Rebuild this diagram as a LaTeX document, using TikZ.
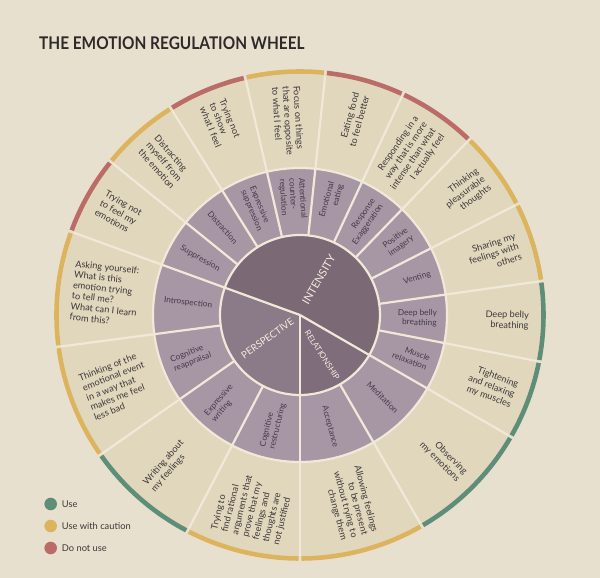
\documentclass[tikz,border=0pt]{standalone}
\usepackage{fontspec}
\setmainfont{Lato}
\definecolor{bgc}{HTML}{E8E0CE}
\definecolor{ringc}{HTML}{E1D7BD}
\definecolor{midc}{HTML}{A797A5}
\definecolor{intc}{HTML}{7B6975}
\definecolor{perc}{HTML}{8B7A87}
\definecolor{relc}{HTML}{7F6D7B}
\definecolor{divc}{HTML}{F0E9DA}
\definecolor{ggreen}{HTML}{5F8E78}
\definecolor{gyellow}{HTML}{DDB45E}
\definecolor{gred}{HTML}{BB6B68}
\definecolor{txtc}{HTML}{3D3839}
\definecolor{titlec}{HTML}{2E2A2A}
\definecolor{midtxt}{HTML}{45394A}
\definecolor{ctxt}{HTML}{F3ECE0}
\begin{document}
\begin{tikzpicture}[x=1pt,y=1pt,
  divline/.style={draw=divc, line width=2.2pt},
  band/.style={line width=4.6pt},
  outertext/.style={inner sep=0pt, text=txtc, font=\fontsize{9.2}{10.6}\selectfont},
  midtext/.style={inner sep=0pt, text=midtxt, font=\fontsize{8.3}{9.6}\selectfont},
  centertext/.style={inner sep=0pt, text=ctxt},
  legtext/.style={anchor=west, inner sep=0pt, text=txtc, font=\fontsize{9.3}{11}\selectfont}]
% background
\fill[bgc] (-300,-263) rectangle (300,315);
\useasboundingbox (-300,-263) rectangle (300,315);
% title
\node[anchor=base west, inner sep=0pt, xscale=0.88, text=titlec, font=\fontsize{17.5}{20}\selectfont\bfseries] (title) at (-261,265) {THE EMOTION REGULATION WHEEL};
% rings
\fill[ringc] (0,0) circle[radius=241pt];
\fill[midc] (0,0) circle[radius=147pt];
\fill[intc] (0,0) -- (-30:80pt) arc[start angle=-30, end angle=160, radius=80pt] -- cycle;
\fill[perc] (0,0) -- (160:80pt) arc[start angle=160, end angle=270, radius=80pt] -- cycle;
\fill[relc] (0,0) -- (270:80pt) arc[start angle=270, end angle=330, radius=80pt] -- cycle;
\draw[divline] (0,0) circle[radius=147pt];
\draw[divline] (0,0) circle[radius=80pt];
\foreach \b in {-30,160,270} { \draw[divline] (0,0) -- (\b:80pt); }
\foreach \b in {-30,-11,8,27,46,65,84,103,122,141,160,187.5,215,242.5,270,300} {
  \draw[divline] (\b:80pt) -- (\b:241pt);
}
% segments
\foreach \a/\w/\c/\m/\o [count=\i] in {
 -20.5/9.5/ggreen/{Muscle\\relaxation}/{Tightening\\and relaxing\\my muscles},
 -1.5/9.5/ggreen/{Deep belly\\breathing}/{Deep belly\\breathing},
 17.5/9.5/gyellow/{Venting}/{Sharing my\\feelings with\\others},
 36.5/9.5/gyellow/{Positive\\imagery}/{Thinking\\pleasurable\\thoughts},
 55.5/9.5/gred/{Response\\Exaggeration}/{Responding in a\\way that is more\\intense than what\\I actually feel},
 74.5/9.5/gred/{Emotional\\eating}/{Eating food\\to feel better},
 93.5/9.5/gyellow/{Attentional\\counter-\\regulation}/{Focus on things\\that are opposite\\to what I feel},
 112.5/9.5/gred/{Expressive\\suppression}/{Trying not\\to show\\what I feel},
 131.5/9.5/gyellow/{Distraction}/{Distracting\\myself from\\the emotion},
 150.5/9.5/gred/{Suppression}/{Trying not\\to feel my\\emotions},
 173.75/13.75/gyellow/{Introspection}/{Asking yourself:\\What is this\\emotion trying\\to tell me?\\What can I learn\\from this?},
 201.25/13.75/gyellow/{Cognitive\\reappraisal}/{Thinking of the\\emotional event\\in a way that\\makes me feel\\less bad},
 228.75/13.75/ggreen/{Expressive\\writing}/{Writing about\\my feelings},
 256.25/13.75/gyellow/{Cognitive\\restructuring}/{Trying to\\find rational\\arguments that\\prove that my\\feelings and\\thoughts are\\not justified},
 -75/15/gyellow/{Acceptance}/{Allowing feelings\\to be present\\without trying to\\change them},
 -45/15/ggreen/{Meditation}/{Observing\\my emotions}} {
  \draw[band, \c] (\a-\w+0.35:243.5pt) arc[start angle=\a-\w+0.35, end angle=\a+\w-0.35, radius=243.5pt];
  \ifdim \a pt < 90pt
    \node[midtext, anchor=east, align=right, rotate=\a] (m\i) at (\a:137pt) {\m};
    \node[outertext, anchor=east, align=right, rotate=\a] (o\i) at (\a:229pt) {\o};
  \else
    \node[midtext, anchor=west, align=left, rotate=\a-180] (m\i) at (\a:137pt) {\m};
    \node[outertext, anchor=west, align=left, rotate=\a-180] (o\i) at (\a:229pt) {\o};
  \fi
}
% center labels
\node[centertext, rotate=60, font=\fontsize{11}{13}\selectfont] (intensity) at (62:40pt) {INTENSITY};
\node[centertext, rotate=35.5, font=\fontsize{9.8}{12}\selectfont] (perspective) at (215.7:40pt) {PERSPECTIVE};
\node[centertext, rotate=-57, font=\fontsize{8.2}{10}\selectfont] (relationship) at (-61:46pt) {RELATIONSHIP};
% legend
\fill[ggreen] (-249.3,-189) circle[radius=6.3pt];
\fill[gyellow] (-249.3,-211) circle[radius=6.3pt];
\fill[gred] (-249.3,-233) circle[radius=6.3pt];
\node[legtext] (l1) at (-238.3,-189) {Use};
\node[legtext] (l2) at (-238.3,-211) {Use with caution};
\node[legtext] (l3) at (-238.3,-233) {Do not use};
\end{tikzpicture}
\end{document}
